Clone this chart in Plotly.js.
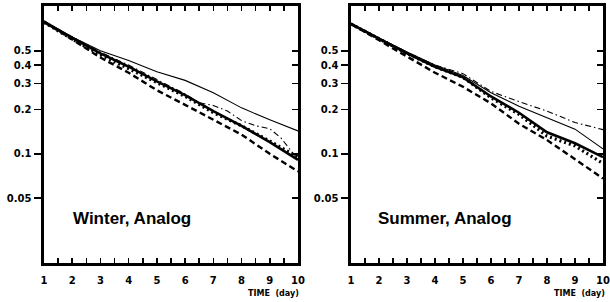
<!DOCTYPE html>
<html>
<head>
<meta charset="utf-8">
<script src="https://cdn.plot.ly/plotly-3.0.1.min.js"></script>
<style>html,body{margin:0;padding:0;background:#fff}#chart{width:610px;height:302px}</style>
</head>
<body>
<div id="chart"></div>
<script>
// ---- data ----
const days = [1, 2, 3, 4, 5, 6, 7, 8, 9, 10];
const yTickVals = [0.05, 0.1, 0.2, 0.3, 0.4, 0.5];
const yTickText = ['0.05', '0.1', '0.2', '0.3', '0.4', '0.5'];
const xTickVals = [1, 1.5, 2, 2.5, 3, 3.5, 4, 4.5, 5, 5.5, 6, 6.5, 7, 7.5, 8, 8.5, 9, 9.5, 10];
const xTickText = ['1', '', '2', '', '3', '', '4', '', '5', '', '6', '', '7', '', '8', '', '9', '', '10'];
const panelLabels = ['Winter, Analog', 'Summer, Analog'];
const xAxisLabel = 'TIME  (day)';

// Winter
const winterThinX = [1, 2, 3, 4, 5, 5.5, 6, 7, 8, 9, 10];
const winterThin = [0.80, 0.62, 0.50, 0.43, 0.36, 0.335, 0.315, 0.26, 0.205, 0.17, 0.143];
const winterDashDotX = [1, 2, 3, 4, 5, 6, 6.5, 7, 7.5, 8, 8.5, 9, 9.4, 9.8, 10];
const winterDashDot = [0.79, 0.62, 0.49, 0.40, 0.32, 0.255, 0.222, 0.213, 0.195, 0.168, 0.155, 0.148, 0.128, 0.102, 0.093];
const winterThick = [0.78, 0.61, 0.48, 0.39, 0.31, 0.25, 0.195, 0.155, 0.12, 0.091];
const winterDotted = [0.78, 0.60, 0.47, 0.38, 0.305, 0.245, 0.19, 0.155, 0.122, 0.095];
const winterDashed = [0.79, 0.60, 0.45, 0.355, 0.27, 0.215, 0.17, 0.135, 0.10, 0.076];

// Summer
const summerThin = [0.77, 0.61, 0.49, 0.40, 0.34, 0.26, 0.21, 0.175, 0.147, 0.108];
const summerDashDot = [0.77, 0.61, 0.49, 0.40, 0.35, 0.265, 0.226, 0.195, 0.163, 0.146];
const summerThick = [0.76, 0.60, 0.48, 0.39, 0.33, 0.245, 0.19, 0.14, 0.118, 0.095];
const summerDotted = [0.76, 0.60, 0.48, 0.39, 0.33, 0.24, 0.185, 0.132, 0.113, 0.086];
const summerDashed = [0.76, 0.59, 0.455, 0.355, 0.285, 0.22, 0.16, 0.124, 0.092, 0.068];

// ---- styles ----
const thin = {color: '#000', width: 1.1};
const dashdot = {color: '#000', width: 1.1, dash: '6px,3px,1.5px,3px'};
const thick = {color: '#000', width: 2.6};
const dotted = {color: '#000', width: 3.2, dash: '2px,3px'};
const dashed = {color: '#000', width: 2.4, dash: '6px,3.5px'};

function tr(x, y, line, xa, ya) {
  return {x: x, y: y, type: 'scatter', mode: 'lines', line: line, xaxis: xa, yaxis: ya,
          showlegend: false, hoverinfo: 'skip'};
}

const traces = [
  tr(winterThinX, winterThin, thin, 'x', 'y'),
  tr(winterDashDotX, winterDashDot, dashdot, 'x', 'y'),
  tr(days, winterDotted, dotted, 'x', 'y'),
  tr(days, winterThick, thick, 'x', 'y'),
  tr(days, winterDashed, dashed, 'x', 'y3'),
  tr(days, summerThin, thin, 'x2', 'y2'),
  tr(days, summerDashDot, dashdot, 'x2', 'y2'),
  tr(days, summerDotted, dotted, 'x2', 'y2'),
  tr(days, summerThick, thick, 'x2', 'y2'),
  tr(days, summerDashed, dashed, 'x2', 'y4')
];

const yRange = [-1.741, 0.003];
const tickFontY = {family: 'DejaVu Sans, sans-serif', size: 10, color: '#000', weight: 'bold'};
const tickFontX = {family: 'DejaVu Sans, sans-serif', size: 10, color: '#000', weight: 'bold'};

function xAxis(domain, anchor) {
  return {domain: domain, anchor: anchor, range: [1, 10], type: 'linear',
    tickmode: 'array', tickvals: xTickVals, ticktext: xTickText,
    ticks: 'inside', ticklen: 5, tickwidth: 1.5, tickcolor: '#000',
    showline: true, linewidth: 2.6, linecolor: '#000', mirror: 'ticks',
    showgrid: false, zeroline: false, tickfont: tickFontX, ticklabelstandoff: 6};
}
function yAxis(anchor) {
  return {domain: [0.1291, 0.9801], anchor: anchor, type: 'log', range: yRange,
    tickmode: 'array', tickvals: yTickVals, ticktext: yTickText,
    ticks: 'outside', ticklen: 7, tickwidth: 1.5, tickcolor: '#000',
    showline: true, linewidth: 2.6, linecolor: '#000', mirror: true,
    showgrid: false, zeroline: false, tickfont: tickFontY, ticklabelstandoff: 1};
}
function yOverlay(over, anchor) {
  return {overlaying: over, anchor: anchor, side: 'right', type: 'log', range: yRange,
    tickmode: 'array', tickvals: yTickVals, showticklabels: false,
    ticks: 'inside', ticklen: 6, tickwidth: 1.5, tickcolor: '#000',
    showline: false, showgrid: false, zeroline: false};
}

const layout = {
  width: 610, height: 302,
  margin: {l: 0, r: 0, t: 0, b: 0},
  paper_bgcolor: '#fff', plot_bgcolor: '#fff',
  showlegend: false,
  xaxis: xAxis([44 / 610, 298 / 610], 'y'),
  yaxis: yAxis('x'),
  xaxis2: xAxis([351 / 610, 603 / 610], 'y2'),
  yaxis2: yAxis('x2'),
  yaxis3: yOverlay('y', 'x'),
  yaxis4: yOverlay('y2', 'x2'),
  annotations: [
    {text: panelLabels[0], xref: 'paper', yref: 'paper', x: 71 / 610, y: 1 - 218 / 302,
     xanchor: 'left', yanchor: 'middle', showarrow: false,
     font: {family: 'Liberation Sans, Arial, sans-serif', size: 17, color: '#000', weight: 'bold'}},
    {text: panelLabels[1], xref: 'paper', yref: 'paper', x: 376 / 610, y: 1 - 218 / 302,
     xanchor: 'left', yanchor: 'middle', showarrow: false,
     font: {family: 'Liberation Sans, Arial, sans-serif', size: 17, color: '#000', weight: 'bold'}},
    {text: xAxisLabel, xref: 'paper', yref: 'paper', x: 301 / 610, y: 1 - 293 / 302,
     xanchor: 'right', yanchor: 'middle', showarrow: false,
     font: {family: 'DejaVu Sans, sans-serif', size: 8, color: '#000', weight: 'bold'}},
    {text: xAxisLabel, xref: 'paper', yref: 'paper', x: 607 / 610, y: 1 - 293 / 302,
     xanchor: 'right', yanchor: 'middle', showarrow: false,
     font: {family: 'DejaVu Sans, sans-serif', size: 8, color: '#000', weight: 'bold'}}
  ]
};

Plotly.newPlot('chart', traces, layout, {staticPlot: true, displayModeBar: false});
</script>
</body>
</html>
